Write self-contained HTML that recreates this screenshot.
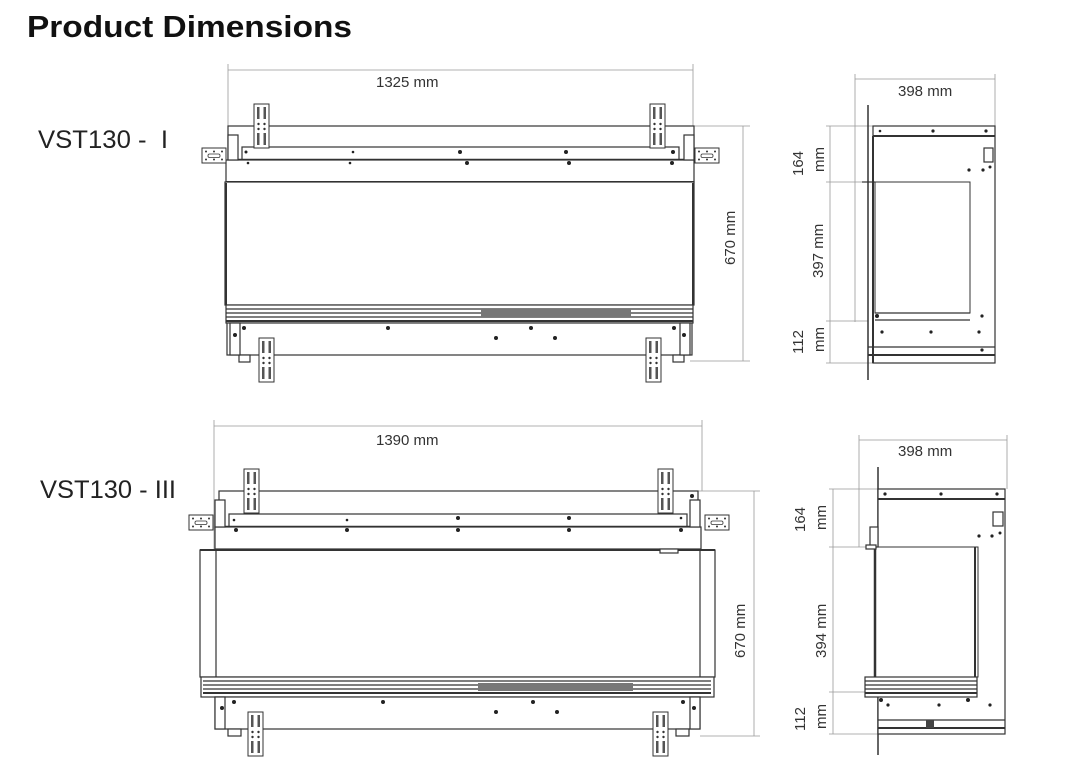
<!DOCTYPE html>
<html><head><meta charset="utf-8"><style>
html,body{margin:0;padding:0;background:#fff;}
svg{display:block;font-family:"Liberation Sans",Arial,sans-serif;}
</style></head><body>
<svg width="1066" height="762" viewBox="0 0 1066 762" xmlns="http://www.w3.org/2000/svg">
<defs>
<g id="vb">
  <rect x="0" y="0" width="15" height="44" fill="#fff" stroke="#333" stroke-width="1"/>
  <rect x="3" y="3" width="2.5" height="12" fill="#555"/><rect x="9.5" y="3" width="2.5" height="12" fill="#555"/>
  <circle cx="4.5" cy="20" r="1.2" fill="#333"/><circle cx="10.5" cy="20" r="1.2" fill="#333"/>
  <circle cx="4.5" cy="25" r="1.2" fill="#333"/><circle cx="10.5" cy="25" r="1.2" fill="#333"/>
  <rect x="3" y="29" width="2.5" height="12" fill="#555"/><rect x="9.5" y="29" width="2.5" height="12" fill="#555"/>
</g>
<g id="hb">
  <rect x="0" y="0" width="24" height="15" fill="#fff" stroke="#333" stroke-width="1"/>
  <rect x="6" y="6" width="12" height="3.5" rx="1.5" fill="none" stroke="#333" stroke-width="0.8"/>
  <circle cx="4" cy="3.5" r="1" fill="#333"/><circle cx="12" cy="3.5" r="1" fill="#333"/><circle cx="20" cy="3.5" r="1" fill="#333"/>
  <circle cx="4" cy="11.5" r="1" fill="#333"/><circle cx="12" cy="11.5" r="1" fill="#333"/><circle cx="20" cy="11.5" r="1" fill="#333"/>
</g>
</defs>

<text x="27" y="37" font-size="31" font-weight="bold" fill="#111" textLength="325" lengthAdjust="spacingAndGlyphs">Product Dimensions</text>
<text x="38" y="148" font-size="25" fill="#222" textLength="130" lengthAdjust="spacingAndGlyphs">VST130 -&#160; I</text>
<text x="40" y="498" font-size="25" fill="#222" textLength="136" lengthAdjust="spacingAndGlyphs">VST130 - III</text>

<g stroke="#999" stroke-width="0.8" fill="none">
  <line x1="228" y1="70" x2="693" y2="70"/>
  <line x1="228" y1="64" x2="228" y2="130"/><line x1="693" y1="64" x2="693" y2="130"/>
  <line x1="743" y1="126" x2="743" y2="361"/>
  <line x1="694" y1="126" x2="750" y2="126"/><line x1="690" y1="361" x2="750" y2="361"/>
  <line x1="855" y1="79" x2="995" y2="79"/>
  <line x1="855" y1="74" x2="855" y2="322"/><line x1="995" y1="74" x2="995" y2="128"/>
  <line x1="830" y1="126" x2="830" y2="363"/>
  <line x1="826" y1="126" x2="873" y2="126"/><line x1="826" y1="182" x2="862" y2="182"/>
  <line x1="826" y1="321" x2="868" y2="321"/><line x1="826" y1="363" x2="873" y2="363"/>
  <line x1="214" y1="426" x2="702" y2="426"/>
  <line x1="214" y1="420" x2="214" y2="550"/><line x1="702" y1="420" x2="702" y2="491"/>
  <line x1="754" y1="491" x2="754" y2="736"/>
  <line x1="698" y1="491" x2="760" y2="491"/><line x1="700" y1="736" x2="760" y2="736"/>
  <line x1="859" y1="440" x2="1007" y2="440"/>
  <line x1="859" y1="435" x2="859" y2="547"/><line x1="1007" y1="435" x2="1007" y2="489"/>
  <line x1="833" y1="489" x2="833" y2="734"/>
  <line x1="829" y1="489" x2="878" y2="489"/><line x1="829" y1="547" x2="870" y2="547"/>
  <line x1="829" y1="692" x2="868" y2="692"/><line x1="829" y1="734" x2="878" y2="734"/>
</g>

<g font-size="15" fill="#333">
  <text x="376" y="87">1325 mm</text>
  <text x="376" y="445">1390 mm</text>
  <text x="898" y="96">398 mm</text>
  <text x="898" y="456">398 mm</text>
  <text transform="translate(735,265) rotate(-90)">670 mm</text>
  <text transform="translate(745,658) rotate(-90)">670 mm</text>
  <text transform="translate(803,176) rotate(-90)">164</text>
  <text transform="translate(824,172) rotate(-90)">mm</text>
  <text transform="translate(823,278) rotate(-90)">397 mm</text>
  <text transform="translate(803,354) rotate(-90)">112</text>
  <text transform="translate(824,352) rotate(-90)">mm</text>
  <text transform="translate(805,532) rotate(-90)">164</text>
  <text transform="translate(826,530) rotate(-90)">mm</text>
  <text transform="translate(826,658) rotate(-90)">394 mm</text>
  <text transform="translate(805,731) rotate(-90)">112</text>
  <text transform="translate(826,729) rotate(-90)">mm</text>
</g>

<g stroke="#333" stroke-width="1.2" fill="#fff">
  <rect x="228" y="126" width="466" height="34"/>
  <rect x="242" y="147" width="437" height="13"/>
  <line x1="228" y1="160" x2="694" y2="160" stroke-width="2.5"/>
  <rect x="226" y="160" width="468" height="22"/>
  <line x1="226" y1="182" x2="694" y2="182" stroke-width="2"/>
  <rect x="225" y="182" width="469" height="123"/>
  <line x1="226" y1="183" x2="226" y2="305" stroke-width="2"/>
  <line x1="693" y1="183" x2="693" y2="305" stroke-width="2"/>
  <rect x="226" y="305" width="467" height="18"/>
  <line x1="226" y1="309" x2="693" y2="309"/><line x1="226" y1="313" x2="693" y2="313"/>
  <line x1="226" y1="317" x2="693" y2="317"/><line x1="226" y1="321" x2="693" y2="321" stroke-width="2"/>
  <rect x="227" y="323" width="465" height="32"/>
  <rect x="239" y="355" width="11" height="7"/><rect x="673" y="355" width="11" height="7"/>
  <rect x="228" y="135" width="10" height="25"/><rect x="684" y="135" width="10" height="25"/>
  <rect x="230" y="323" width="10" height="32"/><rect x="680" y="323" width="10" height="32"/>
</g>
<rect x="481" y="309" width="150" height="8" fill="#777"/>
<g fill="#222">
  <circle cx="246" cy="152" r="1.5"/><circle cx="353" cy="152" r="1.3"/><circle cx="460" cy="152" r="2"/><circle cx="566" cy="152" r="2"/><circle cx="673" cy="152" r="2"/>
  <circle cx="248" cy="163" r="1.3"/><circle cx="350" cy="163" r="1.3"/><circle cx="467" cy="163" r="2"/><circle cx="569" cy="163" r="2"/><circle cx="672" cy="163" r="2"/>
  <circle cx="244" cy="328" r="2"/><circle cx="388" cy="328" r="2"/><circle cx="531" cy="328" r="2"/><circle cx="674" cy="328" r="2"/>
  <circle cx="496" cy="338" r="2"/><circle cx="555" cy="338" r="2"/>
  <circle cx="235" cy="335" r="2"/><circle cx="684" cy="335" r="2"/>
</g>
<use href="#vb" x="254" y="104"/><use href="#vb" x="650" y="104"/>
<use href="#hb" x="202" y="148"/><use href="#hb" x="695" y="148"/>
<use href="#vb" x="259" y="338"/><use href="#vb" x="646" y="338"/>

<g stroke="#333" stroke-width="1.2" fill="#fff">
  <line x1="868" y1="105" x2="868" y2="380" stroke-width="1.5"/>
  <rect x="873" y="126" width="122" height="237"/>
  <line x1="873" y1="136" x2="995" y2="136" stroke-width="2"/>
  <rect x="875" y="182" width="95" height="131" stroke-width="1"/>
  <line x1="875" y1="313" x2="970" y2="313"/>
  <line x1="875" y1="320" x2="970" y2="320"/>
  <line x1="862" y1="182" x2="875" y2="182"/>
  <line x1="868" y1="347" x2="995" y2="347"/><line x1="868" y1="355" x2="995" y2="355" stroke-width="2"/>
  <rect x="984" y="148" width="9" height="14"/>
  <line x1="873" y1="136" x2="873" y2="363" stroke-width="2"/>
</g>
<g fill="#222">
  <circle cx="880" cy="131" r="1.3"/><circle cx="933" cy="131" r="1.6"/><circle cx="986" cy="131" r="1.6"/>
  <circle cx="969" cy="170" r="1.6"/><circle cx="983" cy="170" r="1.6"/><circle cx="990" cy="167" r="1.5"/>
  <circle cx="877" cy="316" r="2"/><circle cx="982" cy="316" r="1.6"/><circle cx="882" cy="332" r="1.6"/><circle cx="931" cy="332" r="1.6"/><circle cx="979" cy="332" r="1.6"/>
  <circle cx="982" cy="350" r="1.6"/>
</g>

<g stroke="#333" stroke-width="1.2" fill="#fff">
  <rect x="219" y="491" width="479" height="36"/>
  <rect x="229" y="514" width="458" height="13"/>
  <line x1="219" y1="527" x2="698" y2="527" stroke-width="2.5"/>
  <rect x="215" y="527" width="486" height="22"/>
  <rect x="200" y="550" width="515" height="127"/>
  <line x1="216" y1="550" x2="216" y2="677"/><line x1="700" y1="550" x2="700" y2="677"/>
  <line x1="200" y1="550" x2="715" y2="550" stroke-width="2"/>
  <rect x="201" y="677" width="513" height="20"/>
  <line x1="203" y1="681" x2="711" y2="681"/><line x1="203" y1="685" x2="711" y2="685"/>
  <line x1="203" y1="689" x2="711" y2="689"/><line x1="203" y1="693" x2="711" y2="693" stroke-width="2"/>
  <rect x="215" y="697" width="485" height="32"/>
  <rect x="228" y="729" width="13" height="7"/><rect x="676" y="729" width="13" height="7"/>
  <rect x="215" y="500" width="10" height="27"/><rect x="690" y="500" width="10" height="27"/>
  <rect x="215" y="697" width="10" height="32"/><rect x="690" y="697" width="10" height="32"/>
  <rect x="660" y="549" width="18" height="4"/>
</g>
<rect x="478" y="683" width="155" height="8" fill="#777"/>
<g fill="#222">
  <circle cx="234" cy="520" r="1.3"/><circle cx="347" cy="520" r="1.3"/><circle cx="458" cy="518" r="2"/><circle cx="569" cy="518" r="2"/><circle cx="681" cy="518" r="1.3"/>
  <circle cx="236" cy="530" r="2"/><circle cx="347" cy="530" r="2"/><circle cx="458" cy="530" r="2"/><circle cx="569" cy="530" r="2"/><circle cx="681" cy="530" r="2"/>
  <circle cx="234" cy="702" r="2"/><circle cx="383" cy="702" r="2"/><circle cx="533" cy="702" r="2"/><circle cx="683" cy="702" r="2"/>
  <circle cx="496" cy="712" r="2"/><circle cx="557" cy="712" r="2"/>
  <circle cx="222" cy="708" r="2"/><circle cx="694" cy="708" r="2"/><circle cx="692" cy="496" r="2"/>
</g>
<use href="#vb" x="244" y="469"/><use href="#vb" x="658" y="469"/>
<use href="#hb" x="189" y="515"/><use href="#hb" x="705" y="515"/>
<use href="#vb" x="248" y="712"/><use href="#vb" x="653" y="712"/>

<g stroke="#333" stroke-width="1.2" fill="#fff">
  <line x1="878" y1="467" x2="878" y2="755" stroke-width="1.5"/>
  <rect x="878" y="489" width="127" height="245"/>
  <line x1="878" y1="499" x2="1005" y2="499" stroke-width="2"/>
  <rect x="875" y="547" width="103" height="130" stroke-width="1"/>
  <line x1="875" y1="547" x2="875" y2="677" stroke-width="2.5"/>
  <line x1="975" y1="547" x2="975" y2="697" stroke-width="2"/>
  <rect x="865" y="677" width="112" height="20"/>
  <line x1="865" y1="681" x2="977" y2="681"/><line x1="865" y1="685" x2="977" y2="685"/>
  <line x1="865" y1="689" x2="977" y2="689"/><line x1="865" y1="693" x2="977" y2="693" stroke-width="2"/>
  <line x1="878" y1="720" x2="1005" y2="720"/><line x1="878" y1="728" x2="1005" y2="728" stroke-width="2"/>
  <rect x="993" y="512" width="10" height="14"/>
  <rect x="870" y="527" width="8" height="20"/>
  <rect x="866" y="545" width="10" height="4"/>
</g>
<g fill="#222">
  <circle cx="885" cy="494" r="1.6"/><circle cx="941" cy="494" r="1.6"/><circle cx="997" cy="494" r="1.6"/>
  <circle cx="979" cy="536" r="1.6"/><circle cx="992" cy="536" r="1.6"/><circle cx="1000" cy="533" r="1.5"/>
  <circle cx="881" cy="700" r="2"/><circle cx="968" cy="700" r="2"/>
  <circle cx="888" cy="705" r="1.6"/><circle cx="939" cy="705" r="1.6"/><circle cx="990" cy="705" r="1.6"/>
  <rect x="926" y="720" width="8" height="8" fill="#444"/>
</g>
</svg>
</body></html>
